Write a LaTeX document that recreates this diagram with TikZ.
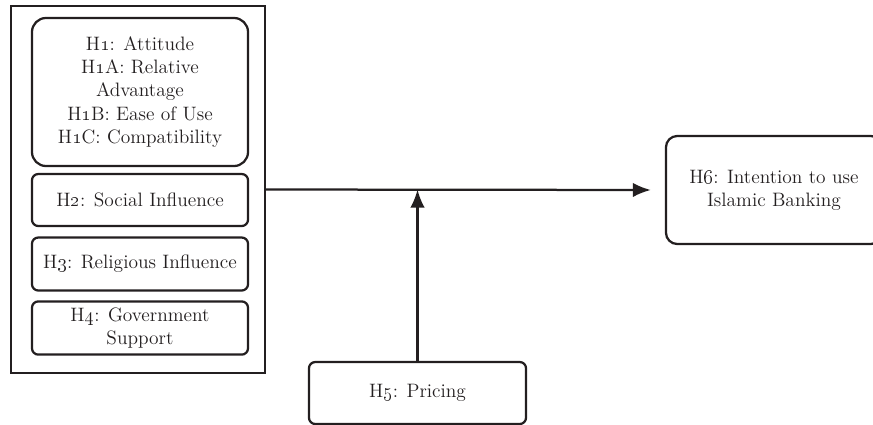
\documentclass[tikz,border=0pt]{standalone}
\usetikzlibrary{arrows.meta,positioning}
\definecolor{ink}{HTML}{231F20}
\begin{document}
\begin{tikzpicture}[x=0.025cm,y=-0.025cm,
    hbox/.style={draw=ink,line width=1.6pt,rounded corners=4.5pt,align=center,
      minimum width=5.4cm,inner sep=0pt,text=ink,font=\fontsize{13.8}{16.5}\selectfont},
    link/.style={draw=ink,line width=1.6pt,-{Latex[length=4.5mm,width=3.6mm]}}]
  \useasboundingbox (0,0) rectangle (873,424);
  \clip (0,0) rectangle (873,424);

  \node[draw=ink,line width=1.6pt,minimum width=6.35cm,minimum height=9.175cm,inner sep=0pt] (grp) at (138,189.5) {};
  \node[hbox,rounded corners=10pt,minimum height=3.7cm] (h1) at (140,92)
    {H\oldstylenums{1}: Attitude\\H\oldstylenums{1}A: Relative\\Advantage\\H\oldstylenums{1}B: Ease of Use\\H\oldstylenums{1}C: Compatibility};
  \node[hbox,minimum height=1.3cm] (h2) at (140,200) {H\oldstylenums{2}: Social Influence};
  \node[hbox,minimum height=1.325cm] (h3) at (140,264) {H\oldstylenums{3}: Religious Influence};
  \node[hbox,minimum height=1.33cm] (h4) at (140,328) {H\oldstylenums{4}: Government\\Support};
  \node[hbox,minimum width=5.425cm,minimum height=1.55cm] (h5) at (417.5,393) {H\oldstylenums{5}: Pricing};
  \node[hbox,rounded corners=8pt,minimum height=2.7cm] (h6) at (774,190) {H\oldstylenums{6}: Intention to use\\Islamic Banking};

  \draw[link,shorten >=0.35cm] (grp.east) -- (h6.west);
  \coordinate (join) at (h5.north |- grp.east);
  \draw[link] (h5.north) -- (join);
\end{tikzpicture}
\end{document}
